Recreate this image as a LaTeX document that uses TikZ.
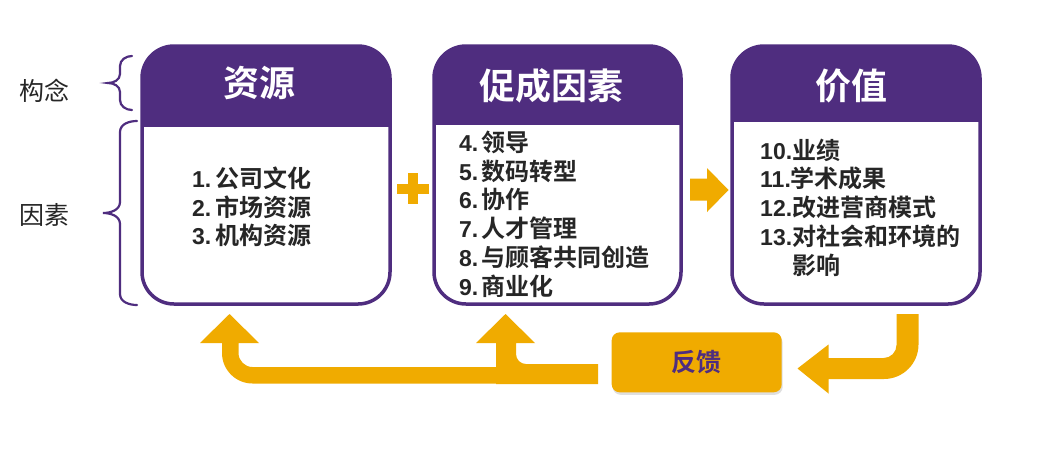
\documentclass[tikz,border=0pt]{standalone}
\usepackage{fontspec}
\setmainfont{Liberation Sans}
\newfontfamily\cjk{Noto Sans CJK SC}[BoldFont={Noto Sans CJK SC Bold}]
\usetikzlibrary{shadows}
\definecolor{ipurple}{HTML}{4F2D7F}
\definecolor{iorange}{HTML}{F0AB00}
\definecolor{itext}{HTML}{262626}
\tikzset{
  box/.style={draw=ipurple, line width=3.5pt, rounded corners=32pt, fill=white, inner sep=0pt},
  hdr/.style={path picture={\fill[ipurple, sharp corners] (path picture bounding box.north west) rectangle ([yshift=-#1]path picture bounding box.north east);}},
  title/.style={text=white, font=\fontsize{36}{40}\selectfont\bfseries\cjk, anchor=base, inner sep=0pt},
  item/.style={text=itext, font=\fontsize{23}{28}\selectfont\bfseries, anchor=base west, inner sep=0pt},
  lab/.style={text=itext, font=\fontsize{25}{30}\selectfont\cjk, anchor=base, inner sep=0pt},
  brace/.style={draw=ipurple, line width=2.2pt, line cap=round},
  blk/.style={fill=iorange},
  fbbox/.style={fill=iorange, rounded corners=8pt, text=ipurple, inner sep=0pt,
    font=\fontsize{25}{30}\selectfont\bfseries\cjk,
    drop shadow={shadow xshift=1pt, shadow yshift=-2.5pt, opacity=0.25}},
}
\newcommand{\cj}[1]{{\fontsize{24}{28}\selectfont\cjk #1}}
\begin{document}
\begin{tikzpicture}[x=1pt,y=-1pt]
\useasboundingbox[fill=white] (0,0) rectangle (1056,451);

% boxes
\node[box, minimum width=248pt, minimum height=258pt, hdr=81pt] (b1) at (266,175) {};
\node[box, minimum width=247pt, minimum height=258pt, hdr=79pt] (b2) at (557.5,175) {};
\node[box, minimum width=248pt, minimum height=258pt, hdr=76pt] (b3) at (856,175) {};

% titles
\node[title] (t1) at (259,96.7) {资源};
\node[title] (t2) at (551,99.5) {促成因素};
\node[title] (t3) at (851,99.5) {价值};

% items box 1
\node[item] (i1) at (192,187) {1.\hspace{4pt}\cj{公司文化}};
\node[item] (i2) at (192,216) {2.\hspace{4pt}\cj{市场资源}};
\node[item] (i3) at (192,244) {3.\hspace{4pt}\cj{机构资源}};
% items box 2
\node[item] (i4) at (459,151) {4.\hspace{3pt}\cj{领导}};
\node[item] (i5) at (459,180) {5.\hspace{3pt}\cj{数码转型}};
\node[item] (i6) at (459,208) {6.\hspace{3pt}\cj{协作}};
\node[item] (i7) at (459,237) {7.\hspace{3pt}\cj{人才管理}};
\node[item] (i8) at (459,266) {8.\hspace{3pt}\cj{与顾客共同创造}};
\node[item] (i9) at (459,295) {9.\hspace{3pt}\cj{商业化}};
% items box 3
\node[item] (i10) at (760,159) {10.\cj{业绩}};
\node[item] (i11) at (760,187) {11.\cj{学术成果}};
\node[item] (i12) at (760,216) {12.\cj{改进营商模式}};
\node[item] (i13) at (760,245) {13.\cj{对社会和环境的}};
\node[item] (i13b) at (792,274) {\cj{影响}};

% left labels
\node[lab] (l1) at (44,100.5) {构念};
\node[lab] (l2) at (44,224.5) {因素};

% braces
\draw[brace] (132,56) to[out=180,in=90] (120,66) -- (120,74) to[out=-90,in=0] (108,83) to[out=0,in=90] (120,92) -- (120,100) to[out=-90,in=180] (132,110);
\draw[brace] (137,121) to[out=180,in=90] (120,132) -- (120,202) to[out=-90,in=0] (103,213) to[out=0,in=90] (120,224) -- (120,294) to[out=-90,in=180] (137,305);

% plus
\fill[blk] (407.5,173) rectangle (418,204);
\fill[blk] (397,183.5) rectangle (429,194);

% right arrow between box 2 and 3
\fill[blk] (690,178.5) -- (707,178.5) -- (707,168) -- (728.5,190) -- (707,212) -- (707,200.5) -- (690,200.5) -- cycle;

% feedback box
\node[fbbox, minimum width=170pt, minimum height=60pt] (fb) at (696.7,362.3) {反馈};

% feedback arrows
\fill[blk] (200,343) -- (229.5,314) -- (259,343) -- (238.5,343) -- (238.5,353)
  .. controls (238.5,360.7) and (244.8,367) .. (252.5,367)
  -- (510,367) -- (510,383.5) -- (252.5,383.5)
  .. controls (235.7,383.5) and (222,369.8) .. (222,353)
  -- (222,343) -- cycle;
\fill[blk] (476,343) -- (505.5,314) -- (535,343) -- (516,343) -- (516,354)
  .. controls (516,359.5) and (520.5,364) .. (526,364)
  -- (598,364) -- (598,384) -- (496,384) -- (496,343) -- cycle;
\fill[blk] (797.5,368.5) -- (828.5,344.5) -- (828.5,358) -- (883.5,358)
  .. controls (890.7,358) and (896.5,352.2) .. (896.5,345)
  -- (896.5,314) -- (918.5,314) -- (918.5,344.5)
  .. controls (918.5,363.5) and (903,379) .. (884,379)
  -- (828.5,379) -- (828.5,393.5) -- cycle;
\end{tikzpicture}
\end{document}
